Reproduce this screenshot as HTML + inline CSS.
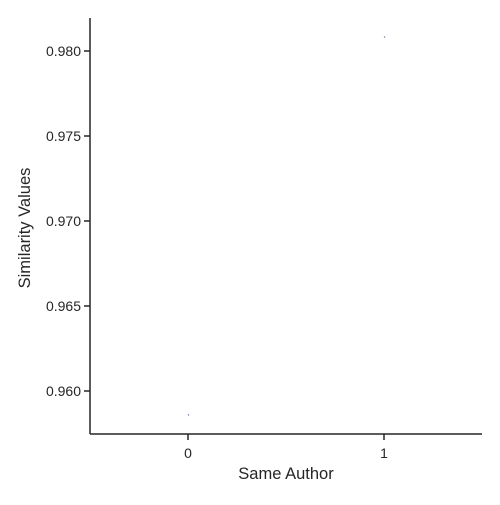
<!DOCTYPE html>
<html><head><meta charset="utf-8"><style>
html,body{margin:0;padding:0;background:#fff;}
svg text{font-family:"Liberation Sans","DejaVu Sans",sans-serif;fill:#262626;}
</style></head><body>
<svg id="chart" width="500" height="500">
<rect x="0" y="0" width="500" height="500" fill="#fff"/>
<g id="marks"></g>
<g id="axes"></g>
</svg>
<script>
const categories = [0, 1];
const values = [0.95859, 0.98082];
const yTicks = [0.960, 0.965, 0.970, 0.975, 0.980];
const yTickLabels = ["0.960", "0.965", "0.970", "0.975", "0.980"];
const xTickLabels = ["0", "1"];

const L = 90, R = 482, T = 18, B = 434;
function xs(v){ return L + (v + 0.5) * (R - L) / 2; }
function ys(v){ return 391 - (v - 0.960) * 17000; }
const NS = "http://www.w3.org/2000/svg";
const marks = document.getElementById('marks');
const axes = document.getElementById('axes');
function mk(tag, attrs, parent){
  const e = document.createElementNS(NS, tag);
  for (const k in attrs) e.setAttribute(k, attrs[k]);
  parent.appendChild(e);
  return e;
}
categories.forEach((c, i) => {
  const p = mk('circle', {cx: xs(c) + 0.5, cy: ys(values[i]), r: 0.7, fill: '#4c72b0'}, marks);
  
  
});
let s = mk('line', {x1: L, y1: T, x2: L, y2: B, stroke: '#262626', 'stroke-width': 1.5}, axes);


s = mk('line', {x1: L, y1: B, x2: R, y2: B, stroke: '#262626', 'stroke-width': 1.5}, axes);


yTicks.forEach((t, i) => {
  const y = ys(t);
  const tk = mk('line', {x1: L - 6, y1: y, x2: L, y2: y, stroke: '#262626', 'stroke-width': 1.5}, axes);
  
  
  const tx = mk('text', {x: L - 9, y: y + 5, 'text-anchor': 'end', 'font-size': 14}, axes);
  tx.textContent = yTickLabels[i];
  
  
});
categories.forEach((c, i) => {
  const x = xs(c);
  const tk = mk('line', {x1: x, y1: B, x2: x, y2: B + 6, stroke: '#262626', 'stroke-width': 1.5}, axes);
  
  
  const tx = mk('text', {x: x, y: B + 24, 'text-anchor': 'middle', 'font-size': 14}, axes);
  tx.textContent = xTickLabels[i];
  
  
});
let t = mk('text', {x: (L + R) / 2, y: 479, 'text-anchor': 'middle', 'font-size': 16.5}, axes);
t.textContent = 'Same Author';


t = mk('text', {x: 30, y: 228, 'text-anchor': 'middle', 'font-size': 16.5, transform: 'rotate(-90 30 228)'}, axes);
t.textContent = 'Similarity Values';


</script>
</body></html>
